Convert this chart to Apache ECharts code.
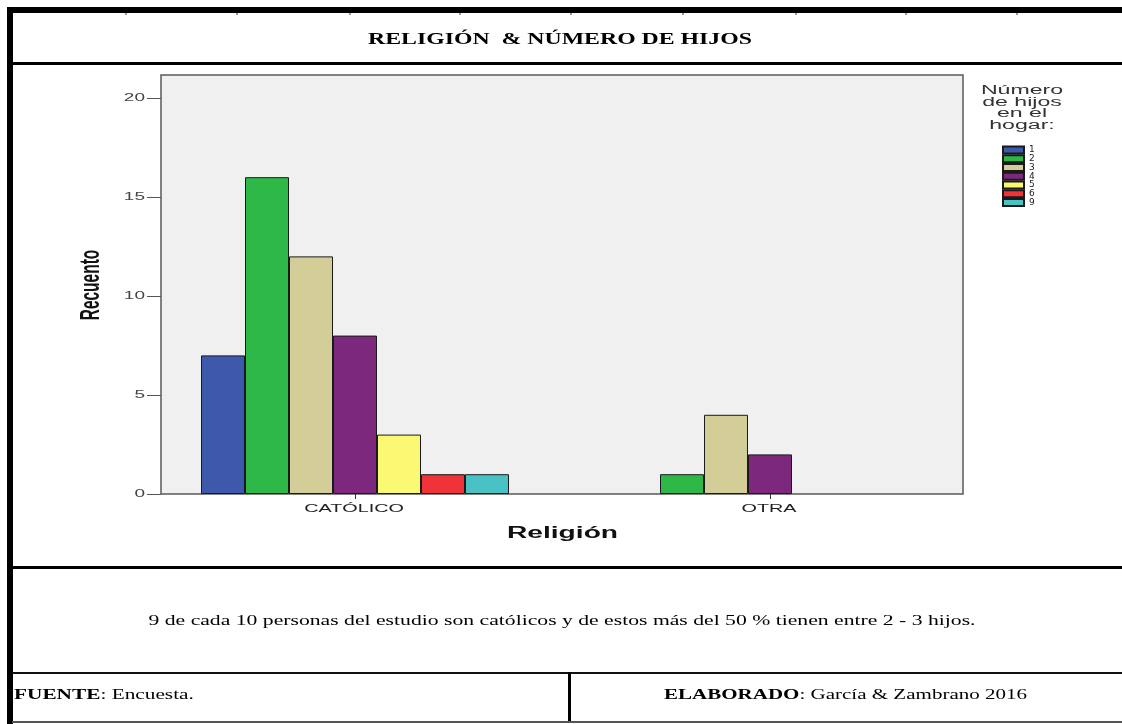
<!DOCTYPE html>
<html>
<head>
<meta charset="utf-8">
<script src="https://cdn.jsdelivr.net/npm/echarts@6/dist/echarts.min.js"></script>
<style>
html,body{margin:0;padding:0;background:#fff;}
#chart{width:1122px;height:724px;}
</style>
</head>
<body>
<div id="chart"></div>
<script>
// ---- data ----
const categories = ['CATÓLICO', 'OTRA'];
const groupNames = ['1', '2', '3', '4', '5', '6', '9'];
const hijos1 = [7, null];
const hijos2 = [16, 1];
const hijos3 = [12, 4];
const hijos4 = [8, 2];
const hijos5 = [3, null];
const hijos6 = [1, null];
const hijos9 = [1, null];
const yTicks = [0, 5, 10, 15, 20];
const titleText = 'RELIGIÓN  & NÚMERO DE HIJOS';
const noteText = '9 de cada 10 personas del estudio son católicos y de estos más del 50 % tienen entre 2 - 3 hijos.';
const legendTitleLines = ['Número', 'de hijos', 'en el', 'hogar:'];
const xAxisName = 'Religión';
const yAxisName = 'Recuento';

const seriesValues = [hijos1, hijos2, hijos3, hijos4, hijos5, hijos6, hijos9];
const colors = ['#3E58AC', '#2EB848', '#D3CE97', '#7C287D', '#FBF873', '#EF3338', '#48C2C5'];

const chart = echarts.init(document.getElementById('chart'), null, {renderer: 'canvas'});

const serif = '"Liberation Serif", "Times New Roman", serif';
const sans = '"Liberation Sans", Arial, sans-serif';

// horizontal stretch of the reference (picture was widened)
const CHART_SX = 1.8;
const DOC_SX = 1.42;

const mctx = document.createElement('canvas').getContext('2d');
function measure(text, font) { mctx.font = font; return mctx.measureText(text).width; }

function txt(x, y, text, font, sx, opt) {
  opt = opt || {};
  return {
    type: 'text', silent: true, x: x, y: y, scaleX: sx,
    style: {text: text, font: font, fill: opt.fill || '#000',
      align: opt.align || 'center', verticalAlign: opt.va || 'middle'}
  };
}

const option = {
  animation: false,
  backgroundColor: '#fff',
  grid: {left: 147.5, right: 144.5, top: 75, bottom: 230, containLabel: false},
  xAxis: {
    type: 'category',
    data: categories,
    axisLine: {show: false},
    axisTick: {show: true, alignWithLabel: true, length: 5, lineStyle: {color: '#333', width: 1}},
    axisLabel: {show: false}
  },
  yAxis: {
    type: 'value',
    min: 0,
    max: 21.16,
    interval: 5,
    offset: -13.5,
    axisLine: {show: false},
    axisTick: {show: true, length: 14, customValues: yTicks, lineStyle: {color: '#555'}},
    splitLine: {show: false},
    axisLabel: {show: false}
  },
  legend: {
    orient: 'vertical',
    left: 1002,
    top: 145.5,
    padding: 0,
    itemWidth: 21,
    itemHeight: 7,
    itemGap: -0.25,
    icon: 'rect',
    textStyle: {fontSize: 9, lineHeight: 8, fontFamily: '"DejaVu Sans", sans-serif', color: '#222'},
    data: groupNames
  },
  series: groupNames.map((n, i) => ({
    type: 'bar',
    name: n,
    data: seriesValues[i],
    barWidth: 44,
    barGap: '0%',
    itemStyle: {color: colors[i], borderColor: '#1a1a1a', borderWidth: 1},
    z: 3
  }))
};

chart.setOption(option);

// --- texts placed through the library's own scales ---
const g = [];
// plot background
g.push({type: 'rect', z: -10, silent: true, shape: {x: 161, y: 75, width: 802, height: 419},
  style: {fill: '#F0F0F0', stroke: '#5a5a5a', lineWidth: 1.5}});
// table frame
const frame = [
  [7, 7, 1115, 6, '#000'], [7, 7, 6, 717, '#000'], [12, 62, 1110, 3, '#000'],
  [12, 566, 1110, 3, '#000'], [12, 672, 1110, 2, '#111'], [568, 672, 3, 50, '#000'],
  [12, 721, 1110, 2, '#555']
];
frame.forEach(f => g.push({type: 'rect', silent: true, shape: {x: f[0], y: f[1], width: f[2], height: f[3]}, style: {fill: f[4]}}));
[125, 236, 349, 459, 570, 682, 795, 905, 1016].forEach(x =>
  g.push({type: 'rect', silent: true, shape: {x: x, y: 13, width: 2, height: 2}, style: {fill: '#999'}}));

// y tick labels
const yFont = '10px ' + sans;
yTicks.forEach(v => {
  const py = chart.convertToPixel({yAxisIndex: 0}, v);
  g.push(txt(145, py, String(v), yFont, 1.9, {align: 'right', fill: '#444'}));
});
// category labels
const cFont = '11px ' + sans;
categories.forEach(c => {
  const px = chart.convertToPixel({xAxisIndex: 0}, c);
  g.push(txt(px - 1, 509, c, cFont, CHART_SX, {fill: '#222'}));
});
// axis names
g.push(txt(562.5, 533.5, xAxisName, 'bold 16px ' + sans, 1.76, {fill: '#111'}));
g.push({type: 'text', silent: true, x: 91, y: 285, rotation: Math.PI / 2, scaleY: 1.8,
  style: {text: yAxisName, font: 'bold 15.5px ' + sans, fill: '#111', align: 'center', verticalAlign: 'middle'}});
// legend title
legendTitleLines.forEach((t, i) =>
  g.push(txt(1022, 90.7 + i * 11.5, t, '12.5px ' + sans, 1.85, {fill: '#333'})));

// document texts
const tFont = 'bold 17px ' + serif;
g.push(txt(560, 40, titleText, tFont, 384 / measure(titleText, tFont)));
const nFont = '15px ' + serif;
g.push(txt(562, 621, noteText, nFont, 827 / measure(noteText, nFont)));
g.push({type: 'text', silent: true, x: 14, y: 695, scaleX: DOC_SX,
  style: {text: '{b|FUENTE}{n|: Encuesta.}', align: 'left', verticalAlign: 'middle',
    rich: {b: {font: 'bold 15px ' + serif, fill: '#000'}, n: {font: '15px ' + serif, fill: '#000'}}}});
const eW = measure('ELABORADO', 'bold 15px ' + serif) + measure(': García & Zambrano 2016', '15px ' + serif);
g.push({type: 'text', silent: true, x: 845.5, y: 695, scaleX: 363 / eW,
  style: {text: '{b|ELABORADO}{n|: García & Zambrano 2016}', align: 'center', verticalAlign: 'middle',
    rich: {b: {font: 'bold 15px ' + serif, fill: '#000'}, n: {font: '15px ' + serif, fill: '#000'}}}});

chart.setOption({graphic: g});
</script>
</body>
</html>
